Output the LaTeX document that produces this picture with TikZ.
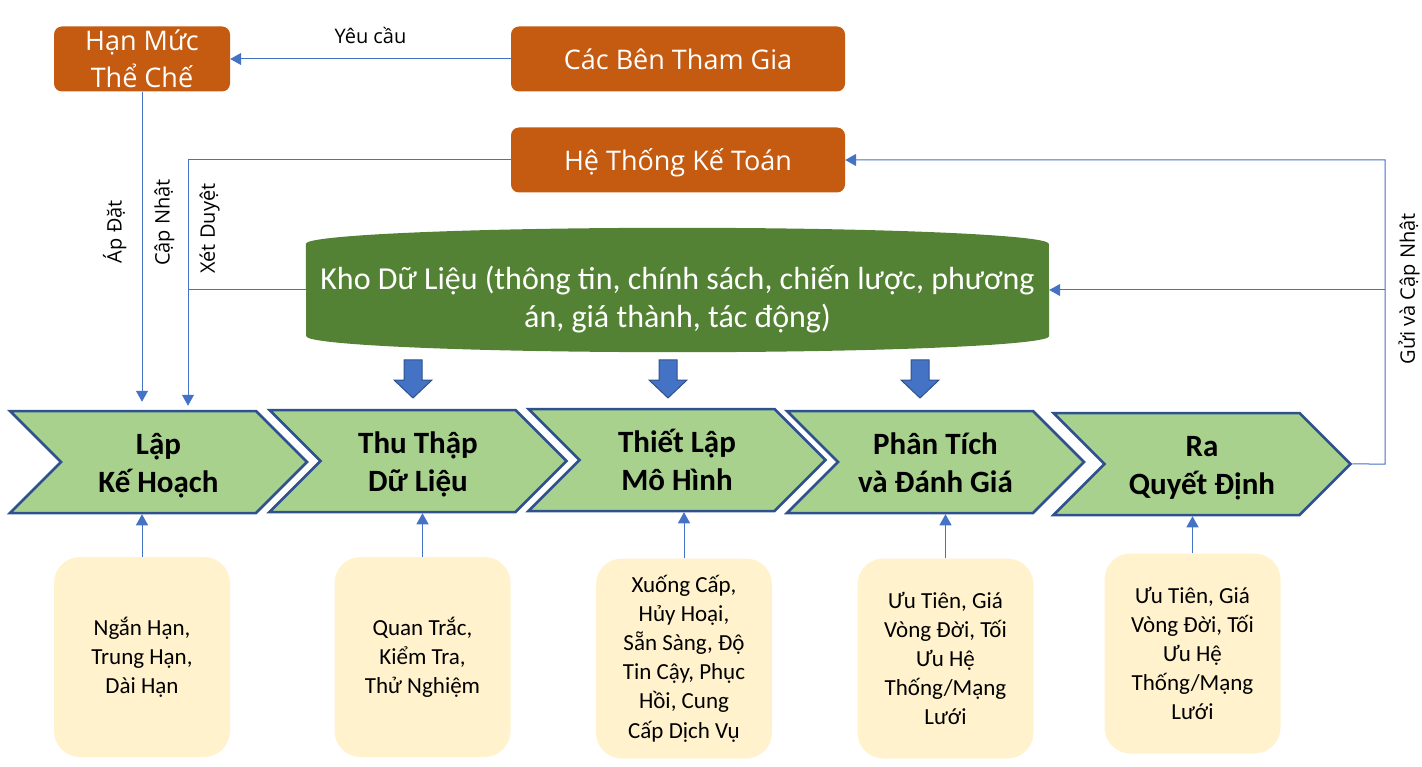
\documentclass[tikz,border=0pt]{standalone}
\usepackage{fontspec}
\setmainfont{Carlito}
\newfontfamily\uifont{Open Sans}
\usepackage{tikz}
\usetikzlibrary{shapes.symbols,arrows.meta,backgrounds,calc}
\definecolor{colorrust}{HTML}{C55A11}
\definecolor{colorkho}{HTML}{548235}
\definecolor{colorstage}{HTML}{A9D18E}
\definecolor{colorrim}{HTML}{2F528F}
\definecolor{colorlink}{HTML}{4472C4}
\definecolor{colornote}{HTML}{FFF2CC}
\tikzset{rust/.style={rectangle, rounded corners=8pt, fill=colorrust, text=white, inner sep=0pt, align=center, font=\uifont\fontsize{27}{37}\selectfont}}
\tikzset{kho/.style={rectangle, minimum width=743pt, minimum height=92pt, inner sep=0pt, text height=82pt, text depth=7pt, text=white, align=center, font=\fontsize{32}{38}\selectfont}}
\tikzset{stage/.style={signal, signal to=east, signal from=west, signal pointer angle=90, draw=colorrim, line width=2.5pt, fill=colorstage, minimum width=297pt, minimum height=102pt, inner sep=0pt, text height=68pt, text depth=8pt, align=center, font=\bfseries\fontsize{31}{38}\selectfont}}
\tikzset{notebox/.style={rectangle, rounded corners=26pt, fill=colornote, minimum width=176pt, minimum height=200pt, inner sep=0pt, align=center, font=\fontsize{23}{29.2}\selectfont}}
\tikzset{lbl/.style={inner sep=0pt, text=black, font=\uifont\fontsize{20}{24}\selectfont}}
\tikzset{sidelbl/.style={lbl, rotate=90, inner sep=13pt}}
\tikzset{
  edgelink/.style={colorlink, line width=1pt, -{Triangle[length=11pt,width=12pt]}},
  edgeplain/.style={colorlink, line width=1pt},
  blockarr/.style={fill=colorlink, draw=colorrim, line width=1pt}
}

\begin{document}
\begin{tikzpicture}[x=1pt, y=-1pt]
\useasboundingbox (0,0) rectangle (1422,767);

\node[rust, minimum width=176pt, minimum height=65pt](hanmuc) at (142,59) {Hạn Mức\\Thể Chế};

\node[rust, minimum width=334pt, minimum height=65pt](cacben) at (678,59) {Các Bên Tham Gia};

\node[rust, minimum width=334pt, minimum height=65pt, text depth=0pt](hethong) at (678,160) {Hệ Thống Kế Toán};

\node[kho](kho) at (677.5,290) {Kho Dữ Liệu (thông tin, chính sách, chiến lược, phương\\án, giá thành, tác động)};
\begin{scope}[on background layer]
\fill[colorkho] (kho.north west) arc[start angle=180, end angle=360, x radius=371.5, y radius=16]
  -- (kho.south east) arc[start angle=0, end angle=180, x radius=371.5, y radius=16] -- cycle;
\end{scope}

\foreach \x in {413,668,920}
  \filldraw[blockarr] (\x-9,360) -- (\x+9,360) -- (\x+9,380) -- (\x+19,380)
    -- (\x,398) -- (\x-19,380) -- (\x-9,380) -- cycle;

\node[stage](lap) at (158.5,462) {Lập\\Kế Hoạch};
\node[stage](thuthap) at (418,461) {Thu Thập\\Dữ Liệu};
\node[stage](thietlap) at (677,460) {Thiết Lập\\Mô Hình};
\node[stage](phantich) at (935.5,462) {Phân Tích\\và Đánh Giá};
\node[stage](ra) at (1202,464) {Ra\\Quyết Định};

\node[notebox](nganhan) at (142,657) {Ngắn Hạn,\\Trung Hạn,\\Dài Hạn};
\node[notebox](quantrac) at (422.5,657) {Quan Trắc,\\Kiểm Tra,\\Thử Nghiệm};
\node[notebox](xuongcap) at (684,658.5) {Xuống Cấp,\\Hủy Hoại,\\Sẵn Sàng, Độ\\Tin Cậy, Phục\\Hồi, Cung\\Cấp Dịch Vụ};
\node[notebox](uutien) at (945.5,658.5) {Ưu Tiên, Giá\\Vòng Đời, Tối\\Ưu Hệ\\Thống/Mạng\\Lưới};
\node[notebox](uutienra) at (1192.5,653.5) {Ưu Tiên, Giá\\Vòng Đời, Tối\\Ưu Hệ\\Thống/Mạng\\Lưới};

\coordinate (ltop) at (188,160);
\coordinate (lmid) at (188,290);
\coordinate (rtop) at (1385,160);
\coordinate (rmid) at (1385,290);
\coordinate (rbot) at (1385,464);

\draw[edgelink] (cacben) -- node[lbl, above=15pt]{Yêu cầu} (hanmuc);

\draw[edgelink, shorten >=8pt] (hanmuc) --
node[sidelbl, anchor=south, inner sep=15pt, pos=0.44]{Áp Đặt} (hanmuc |- lap.north);

\draw[edgelink, shorten >=4pt] (hethong) -- (ltop) --
node[sidelbl, anchor=south, pos=0.25]{Cập Nhật}
node[sidelbl, anchor=north, inner sep=11pt, pos=0.275]{Xét Duyệt} (ltop |- lap.north);

\draw[edgeplain] (kho) -- (lmid);

\draw[edgelink] (ra) -- (rbot) --
node[sidelbl, anchor=north, pos=0.576]{Gửi và Cập Nhật} (rtop) -- (hethong);

\draw[edgelink] (rmid) -- (kho);

\draw[edgelink] (nganhan.north) -- (nganhan.north |- lap.south);
\draw[edgelink] (quantrac.north) -- (quantrac.north |- thuthap.south);
\draw[edgelink] (xuongcap.north) -- (xuongcap.north |- thietlap.south);
\draw[edgelink] (uutien.north) -- (uutien.north |- phantich.south);
\draw[edgelink] (uutienra.north) -- (uutienra.north |- ra.south);
\end{tikzpicture}
\end{document}
